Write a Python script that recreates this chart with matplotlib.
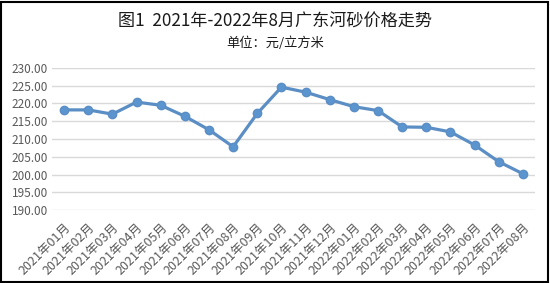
import matplotlib.pyplot as plt
from matplotlib.patches import Rectangle

plt.rcParams['font.family'] = ['Noto Sans CJK SC', 'DejaVu Sans']

months = ['2021年01月', '2021年02月', '2021年03月', '2021年04月', '2021年05月',
          '2021年06月', '2021年07月', '2021年08月', '2021年09月', '2021年10月',
          '2021年11月', '2021年12月', '2022年01月', '2022年02月', '2022年03月',
          '2022年04月', '2022年05月', '2022年06月', '2022年07月', '2022年08月']
price = [218.2, 218.2, 217.0, 220.4, 219.5, 216.4, 212.6, 207.8, 217.2, 224.6,
         223.2, 221.1, 219.1, 218.0, 213.4, 213.3, 212.0, 208.3, 203.6, 200.2]
yticks = [190, 195, 200, 205, 210, 215, 220, 225, 230]

fig = plt.figure(figsize=(5.5, 2.83), dpi=100)
ax = fig.add_axes([52/550, 1 - 210/283, (535-52)/550, (210-68)/283])

x = range(len(months))
ax.plot(x, price, color='#5b8ec4', lw=2.3, marker='o', ms=6,
        markerfacecolor='#5b95d0', markeredgecolor='#5b8ec4')

ax.set_xlim(-0.5, len(months) - 0.5)
ax.set_ylim(190, 230)
ax.set_yticks(yticks)
ax.set_yticklabels([f'{v:.2f}' for v in yticks], color='#595959', fontsize=8.5)
ax.set_xticks(list(x))
ax.set_xticklabels(months, rotation=45, ha='right', rotation_mode='anchor',
                   color='#595959', fontsize=9)
ax.tick_params(length=0, pad=3)
ax.tick_params(axis='x', pad=8)
ax.grid(axis='y', color='#d9d9d9', lw=1)
ax.set_axisbelow(True)
for s in ax.spines.values():
    s.set_visible(False)

fig.text(0.5, 1 - 22/283, '图1  2021年-2022年8月广东河砂价格走势', ha='center', va='center',
         fontsize=12.3, color='#1a1a1a')
fig.text(0.5, 1 - 43/283, '单位：元/立方米', ha='center', va='center',
         fontsize=9.5, color='#1a1a1a')

fig.patches.append(Rectangle((0.002, 0.004), 0.994, 0.99, transform=fig.transFigure,
                             fill=False, edgecolor='black', lw=1.5))

fig.savefig('out.png', dpi=100)
